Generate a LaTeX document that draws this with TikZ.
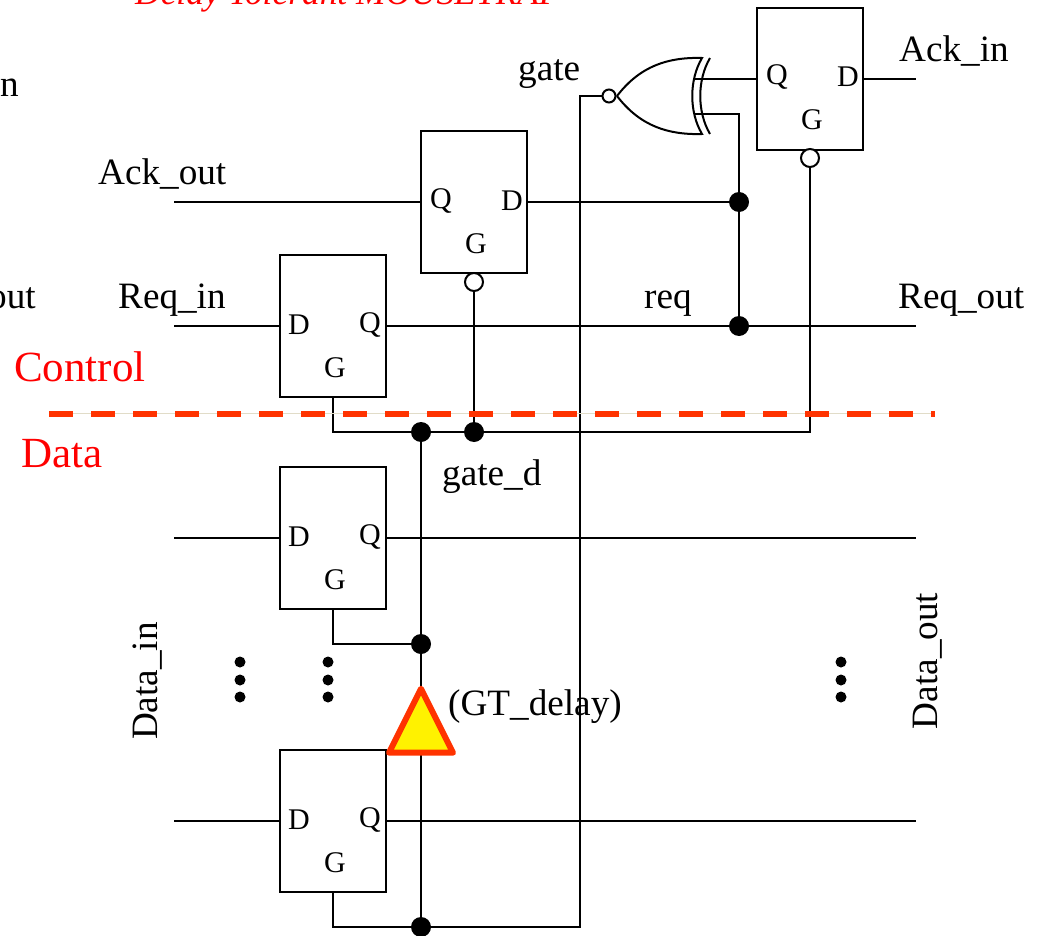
\documentclass[tikz,border=0pt]{standalone}
\usepackage{fontspec}
\setmainfont{Liberation Serif}
\usetikzlibrary{shapes.geometric}
\definecolor{ctrlRed}{RGB}{255, 0, 0}
\definecolor{dashRed}{RGB}{255, 51, 0}
\definecolor{dashPale}{RGB}{225, 220, 200}

\begin{document}
\begin{tikzpicture}[x=1pt, y=-1pt]
    \tikzstyle{latch} = [rectangle, minimum width=106pt, minimum height=142pt, inner sep=0pt, draw=black, line width=2pt]
    \tikzstyle{pin} = [inner sep=0pt, font=\fontsize{30}{32}\selectfont]
    \tikzstyle{tag} = [inner sep=0pt, anchor=base west, font=\fontsize{37.2}{40}\selectfont]
    \tikzstyle{side} = [inner sep=0pt, anchor=base west, text=ctrlRed, font=\fontsize{43}{45}\selectfont]
    \tikzstyle{dot} = [circle, fill=black, inner sep=0pt, minimum size=20pt]
    \tikzstyle{bubble} = [circle, draw=black, fill=white, line width=2pt, inner sep=0pt, minimum size=18pt]
    \tikzstyle{etc} = [circle, fill=black, inner sep=0pt, minimum size=11pt]
    \tikzstyle{wire} = [line width=2pt, black]
    \useasboundingbox (0,0) rectangle (1046,936);

    % Latches
    \node[latch] (latA) at (474,202) {};
    \node[latch] (latB) at (332.5,326) {};
    \node[latch] (latC) at (332.5,538) {};
    \node[latch] (latD) at (332.5,821) {};
    \node[latch] (latE) at (810,79) {};
    \node[pin] (aQ) at (441,201) {Q};
    \node[pin] (aD) at (512,201) {D};
    \node[pin] (aG) at (476,244) {G};
    \node[pin] (bD) at (299,325) {D};
    \node[pin] (bQ) at (370,325) {Q};
    \node[pin] (bG) at (335,368) {G};
    \node[pin] (cD) at (299,537) {D};
    \node[pin] (cQ) at (370,537) {Q};
    \node[pin] (cG) at (335,580) {G};
    \node[pin] (dD) at (299,820) {D};
    \node[pin] (dQ) at (370,820) {Q};
    \node[pin] (dG) at (335,863) {G};
    \node[pin] (eQ) at (777,77) {Q};
    \node[pin] (eD) at (848,77) {D};
    \node[pin] (eG) at (812,120) {G};

    % Free ends
    \coordinate (ackoutEnd) at (174,202);
    \coordinate (reqinEnd) at (174,326);
    \coordinate (reqoutEnd) at (916,326);
    \coordinate (ackinEnd) at (916,79);
    \coordinate (datAin) at (174,538);
    \coordinate (datAout) at (916,538);
    \coordinate (datBin) at (174,821);
    \coordinate (datBout) at (916,821);
    \coordinate (xnorA) at (694,79);
    \coordinate (xnorB) at (694,114);
    \coordinate (dashL) at (49,413.5);
    \coordinate (dashR) at (934.5,413.5);

    % Junctions
    \node[dot] (jAck) at (739,202) {};
    \node[dot] (jReq) at (739,326) {};
    \node[dot] (jGateA) at (421,432) {};
    \node[dot] (jGateB) at (474,432) {};
    \node[dot] (jLatC) at (421,644) {};
    \node[dot] (jLatD) at (421,927) {};
    \node[bubble] (bubA) at (474,282) {};
    \node[bubble] (bubE) at (810,158) {};
    \node[bubble, minimum size=13pt] (bubX) at (609,96) {};

    % Control wires
    \draw[wire] (ackoutEnd) -- (latA.west);
    \draw[wire] (latA.east) -- (jAck);
    \draw[wire] (reqinEnd) -- (latB.west);
    \draw[wire] (latB.east) -- (reqoutEnd);
    \draw[wire] (latE.east) -- (ackinEnd);
    \draw[wire] (latE.west) -- (xnorA);
    \draw[wire] (xnorB) -| (jAck);
    \draw[wire] (jAck) -- (jReq);
    \draw[wire] (bubA) -- (jGateB);
    \draw[wire] (latB.south) |- (jGateA);
    \draw[wire] (jGateA) -- (jGateB);
    \draw[wire] (jGateB) -| (bubE);

    % Data wires
    \draw[wire] (datAin) -- (latC.west);
    \draw[wire] (latC.east) -- (datAout);
    \draw[wire] (datBin) -- (latD.west);
    \draw[wire] (latD.east) -- (datBout);
    \draw[wire] (latC.south) |- (jLatC);
    \draw[wire] (latD.south) |- (jLatD);
    \draw[wire] (jGateA) -- (jLatD);
    \draw[wire] (jLatD) -| (580,96) -- (bubX);

    % Gate
    \draw[wire, fill=white] (617,96) .. controls (640,66) and (668,57) .. (702,58) .. controls (689,80) and (689,112) .. (702,134) .. controls (668,135) and (640,126) .. (617,96);
    \draw[wire] (710,58) .. controls (697,80) and (697,112) .. (710,134);
    \draw[wire] (xnorA) -- (latE.west);
    \draw[wire] (xnorB) -- (710,114);

    % Delay
    \node[isosceles triangle, isosceles triangle apex angle=53, shape border rotate=90, isosceles triangle stretches, minimum width=64pt, minimum height=64pt, inner sep=0pt, anchor=apex, draw=dashRed, fill=yellow, line width=6pt, line join=round] (gtdelay) at (421,682) {};

    % Divider
    \draw[line width=1pt, dashPale] (dashL) -- (dashR);
    \draw[line width=6pt, dashRed, dash pattern=on 24pt off 18pt] (dashL) -- (dashR);

    % Ellipsis
    \node[etc] (etcA1) at (240,662) {};
    \node[etc] (etcA2) at (240,680) {};
    \node[etc] (etcA3) at (240,697) {};
    \node[etc] (etcB1) at (328,662) {};
    \node[etc] (etcB2) at (328,680) {};
    \node[etc] (etcB3) at (328,697) {};
    \node[etc] (etcC1) at (841,662) {};
    \node[etc] (etcC2) at (841,680) {};
    \node[etc] (etcC3) at (841,697) {};

    % Labels
    \node[inner sep=0pt, anchor=base west, text=ctrlRed, font=\fontsize{35.4}{38}\selectfont\itshape] (title) at (135,5) {Delay Tolerant MOUSETRAP};
    \node[tag] (tagN) at (0,97) {n};
    \node[tag] (tagOut) at (-12,308) {out};
    \node[tag] (tagGate) at (518,80.5) {gate};
    \node[tag] (tagAckin) at (899,62) {Ack\_in};
    \node[tag] (tagAckout) at (98,185) {Ack\_out};
    \node[tag] (tagReqin) at (118,308) {Req\_in};
    \node[tag] (tagReq) at (644,308) {req};
    \node[tag] (tagReqout) at (898,308) {Req\_out};
    \node[tag] (tagGated) at (442,485) {gate\_d};
    \node[tag] (tagDelay) at (448,715) {(GT\_delay)};
    \node[tag, anchor=base, rotate=90] (tagDatain) at (157,681) {Data\_in};
    \node[tag, anchor=base, rotate=90] (tagDataout) at (937,661) {Data\_out};
    \node[side] (tagControl) at (14,381) {Control};
    \node[side] (tagData) at (21,467) {Data};
\end{tikzpicture}
\end{document}
